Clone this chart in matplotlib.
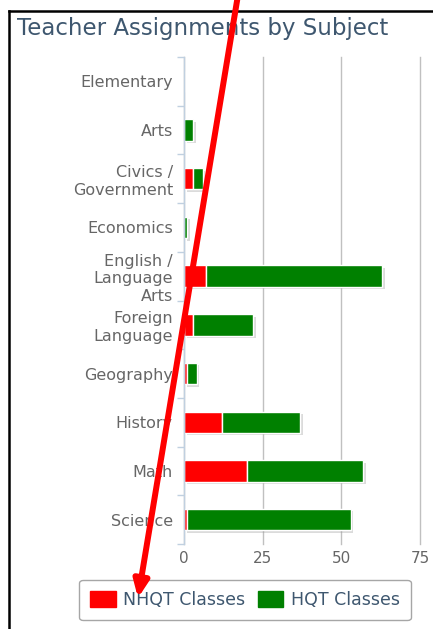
import matplotlib
matplotlib.use("Agg")
import matplotlib.pyplot as plt
import matplotlib.patheffects as pe
from matplotlib.patches import Patch
import numpy as np

subjects = ["Elementary", "Arts", "Civics /\nGovernment", "Economics",
            "English /\nLanguage\nArts", "Foreign\nLanguage", "Geography",
            "History", "Math", "Science"]
nhqt = [0, 0, 3, 0, 7, 3, 1, 12, 20, 1]
hqt = [0, 3, 3, 1, 56, 19, 3, 25, 37, 52]
x_ticks = [0, 25, 50, 75]

W, H = 433, 629
fig = plt.figure(figsize=(W / 100, H / 100), dpi=100)
fig.patch.set_facecolor("white")

ax = fig.add_axes([184 / W, 1 - 544 / H, 236 / W, 487 / H])
y = np.arange(len(subjects))
shadow = [pe.SimplePatchShadow(offset=(1.8, -1.8), shadow_rgbFace="#999999", alpha=0.35),
          pe.Normal()]
b1 = ax.barh(y, nhqt, height=0.44, color="#FF0000", edgecolor="white", lw=1,
             zorder=3)
b2 = ax.barh(y, hqt, left=nhqt, height=0.44, color="#008000", edgecolor="white",
             lw=1, zorder=3)
for bar in list(b1) + list(b2):
    bar.set_path_effects(shadow)

ax.set_xlim(0, 75)
ax.set_ylim(len(subjects) - 0.5, -0.5)
for s in ["top", "right", "bottom"]:
    ax.spines[s].set_visible(False)
ax.spines["left"].set_color("#C0D0E0")
ax.spines["left"].set_linewidth(1)
ax.spines["left"].set_zorder(4)

ax.set_xticks(x_ticks)
ax.grid(axis="x", color="#C0C0C0", lw=1, zorder=0)
for gl in ax.get_xgridlines():
    gl.set_clip_on(False)
ax.tick_params(axis="x", length=0, pad=5, labelsize=11, labelcolor="#666666")

ax.set_yticks(y)
ax.set_yticklabels(subjects, fontsize=11.5, color="#666666", ha="right",
                   multialignment="right")
ax.tick_params(axis="y", which="major", length=0, pad=8)
ax.set_yticks(np.arange(len(subjects) + 1) - 0.5, minor=True)
ax.tick_params(axis="y", which="minor", length=5, width=1, color="#C0D0E0")

fig.text(17 / W, 1 - 28 / H, "Teacher Assignments by Subject", fontsize=16.5,
         color="#3E576F", va="center", ha="left")

handles = [Patch(facecolor="#FF0000", edgecolor="#FF0000"),
           Patch(facecolor="#008000", edgecolor="#008000")]
fig.legend(handles, ["NHQT Classes", "HQT Classes"], loc="center",
           bbox_to_anchor=(245 / W, 1 - 600 / H), ncol=2, fontsize=12.5,
           labelcolor="#3E576F", frameon=True, fancybox=True,
           edgecolor="#909090", handlelength=1.45, handleheight=1.0,
           handletextpad=0.45, columnspacing=0.7, borderpad=0.65,
           borderaxespad=0)

# screenshot border and red arrow overlay
ov = fig.add_axes([0, 0, 1, 1], zorder=10)
ov.set_xlim(0, W)
ov.set_ylim(H, 0)
ov.axis("off")
ov.plot([9, 9], [11, H], color="black", lw=1.8)
ov.plot([9, W], [11, 11], color="black", lw=1.8)
ov.annotate("", xy=(138, 598), xytext=(238, -5),
            arrowprops=dict(arrowstyle="-|>,head_length=0.9,head_width=0.4",
                            color="#FF0000", lw=4.3, mutation_scale=11,
                            shrinkA=0, shrinkB=0))

fig.savefig("out.png", dpi=100)
